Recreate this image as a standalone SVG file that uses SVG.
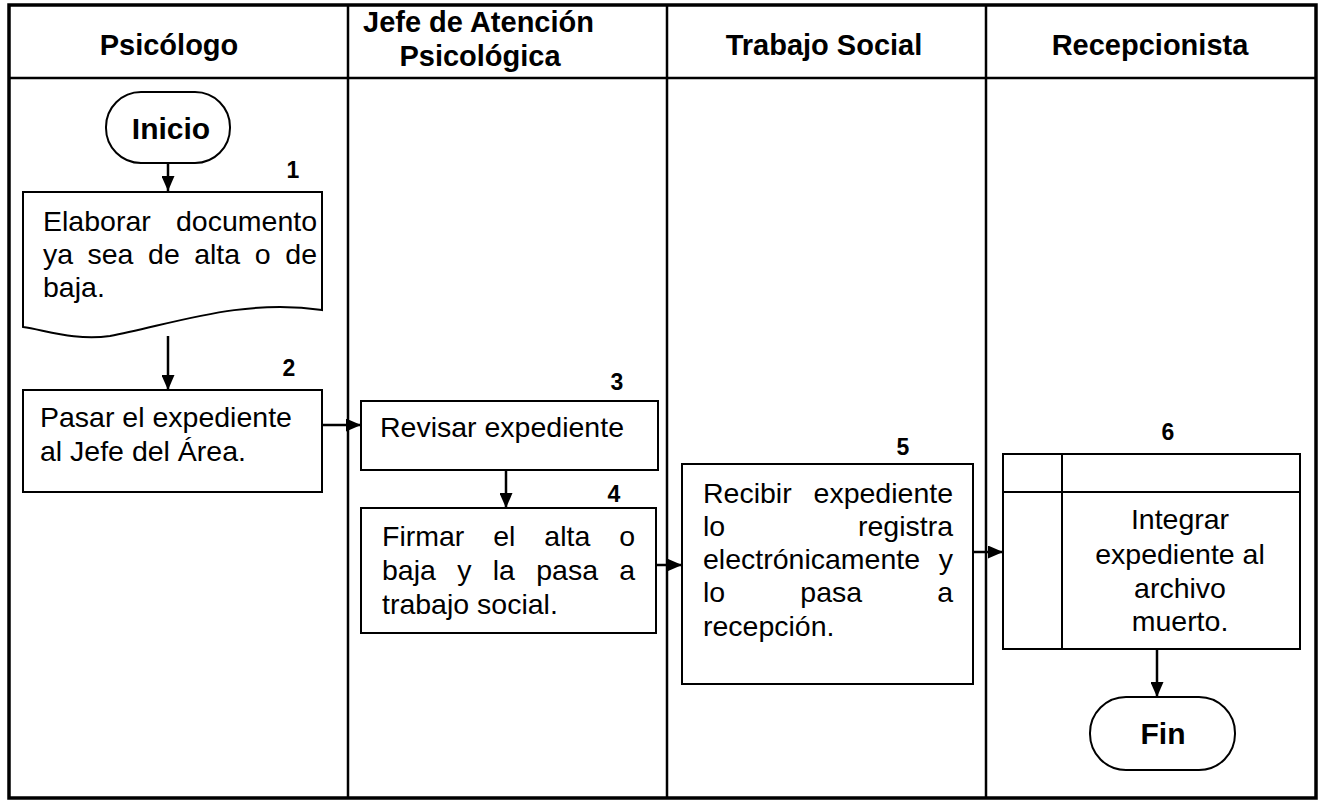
<svg xmlns="http://www.w3.org/2000/svg" width="1322" height="802" viewBox="0 0 1322 802">
<defs>
<style>
.frame{fill:none;stroke:#000;stroke-width:3.5}
.lane{fill:none;stroke:#000;stroke-width:2.5}
.box{fill:#fff;stroke:#000;stroke-width:2}
.hd{font-family:"Liberation Sans",Arial,sans-serif;font-weight:bold;font-size:29px;fill:#000}
.tb{font-family:"Liberation Sans",Arial,sans-serif;font-size:28.5px;fill:#000}
.num{font-family:"Liberation Sans",Arial,sans-serif;font-weight:bold;font-size:23px;fill:#000;text-anchor:middle}
.term{font-family:"Liberation Sans",Arial,sans-serif;font-weight:bold;font-size:30px;fill:#000;text-anchor:middle}
.con{fill:none;stroke:#000;stroke-width:2.5}
</style>
<marker id="ah" viewBox="0 0 15 13" refX="15" refY="6.5" markerWidth="15" markerHeight="13" markerUnits="userSpaceOnUse" orient="auto">
<path d="M0,0 L15,6.5 L0,13 Z" fill="#000"/>
</marker>
</defs>
<rect x="0" y="0" width="1322" height="802" fill="#fff"/>
<g id="lanes">
<rect class="frame" x="9" y="5" width="1307" height="793"/>
<line class="lane" x1="9" y1="78" x2="1316" y2="78"/>
<line class="lane" x1="348" y1="5" x2="348" y2="798"/>
<line class="lane" x1="667" y1="5" x2="667" y2="798"/>
<line class="lane" x1="986" y1="5" x2="986" y2="798"/>
<text class="hd" x="169" y="55" text-anchor="middle">Psicólogo</text>
<text class="hd" x="363" y="32">Jefe de Atención</text>
<text class="hd" x="480" y="66" text-anchor="middle">Psicológica</text>
<text class="hd" x="824" y="55" text-anchor="middle">Trabajo Social</text>
<text class="hd" x="1150" y="55" text-anchor="middle">Recepcionista</text>
</g>
<g id="connectors">
<line class="con" x1="168" y1="163" x2="168" y2="191" marker-end="url(#ah)"/>
<line class="con" x1="168" y1="336" x2="168" y2="390" marker-end="url(#ah)"/>
<line class="con" x1="322" y1="425" x2="361" y2="425" marker-end="url(#ah)"/>
<line class="con" x1="506" y1="470" x2="506" y2="508" marker-end="url(#ah)"/>
<line class="con" x1="656" y1="565" x2="682" y2="565" marker-end="url(#ah)"/>
<line class="con" x1="971" y1="552" x2="1003" y2="552" marker-end="url(#ah)"/>
<line class="con" x1="1157" y1="649" x2="1157" y2="697" marker-end="url(#ah)"/>
</g>
<g id="inicio">
<rect class="box" x="106" y="92" width="124" height="71" rx="35" ry="35"/>
<text class="term" x="171" y="139">Inicio</text>
</g>
<g id="n1">
<text class="num" x="293" y="178">1</text>
<path class="box" d="M23,192 H322 V310 C240,298 170,325 110,336 C75,341 45,330 23,327 Z"/>
<text class="tb" y="231"><tspan x="43">Elaborar</tspan><tspan x="317" text-anchor="end">documento</tspan></text>
<text class="tb" y="264"><tspan x="43">ya</tspan><tspan x="87.5">sea</tspan><tspan x="148.1">de</tspan><tspan x="194.2">alta</tspan><tspan x="254.8">o</tspan><tspan x="317" text-anchor="end">de</tspan></text>
<text class="tb" x="43" y="297">baja.</text>
</g>
<g id="n2">
<text class="num" x="289" y="376">2</text>
<rect class="box" x="23" y="390" width="299" height="102"/>
<text class="tb" x="40" y="427">Pasar el expediente</text>
<text class="tb" x="40" y="461">al Jefe del Área.</text>
</g>
<g id="n3">
<text class="num" x="617" y="390">3</text>
<rect class="box" x="361" y="401" width="297" height="69"/>
<text class="tb" x="380" y="437">Revisar expediente</text>
</g>
<g id="n4">
<text class="num" x="614" y="502">4</text>
<rect class="box" x="361" y="508" width="295" height="125"/>
<text class="tb" y="546"><tspan x="382">Firmar</tspan><tspan x="493.2">el</tspan><tspan x="544.3">alta</tspan><tspan x="635" text-anchor="end">o</tspan></text>
<text class="tb" y="580"><tspan x="382">baja</tspan><tspan x="457.2">y</tspan><tspan x="492.7">la</tspan><tspan x="536.2">pasa</tspan><tspan x="635" text-anchor="end">a</tspan></text>
<text class="tb" x="382" y="614">trabajo social.</text>
</g>
<g id="n5">
<text class="num" x="903" y="455">5</text>
<rect class="box" x="682" y="464" width="291" height="220"/>
<text class="tb" y="503"><tspan x="703">Recibir</tspan><tspan x="953" text-anchor="end">expediente</tspan></text>
<text class="tb" y="536"><tspan x="703">lo</tspan><tspan x="953" text-anchor="end">registra</tspan></text>
<text class="tb" y="569"><tspan x="703">electrónicamente</tspan><tspan x="953" text-anchor="end">y</tspan></text>
<text class="tb" y="602"><tspan x="703">lo</tspan><tspan x="800.3">pasa</tspan><tspan x="953" text-anchor="end">a</tspan></text>
<text class="tb" x="703" y="636">recepción.</text>
</g>
<g id="n6">
<text class="num" x="1168" y="440">6</text>
<rect class="box" x="1003" y="454" width="297" height="195"/>
<line class="box" x1="1003" y1="492" x2="1300" y2="492"/>
<line class="box" x1="1062" y1="454" x2="1062" y2="649"/>
<text class="tb" x="1180" y="529" text-anchor="middle">Integrar</text>
<text class="tb" x="1180" y="564" text-anchor="middle">expediente al</text>
<text class="tb" x="1180" y="598" text-anchor="middle">archivo</text>
<text class="tb" x="1180" y="631" text-anchor="middle">muerto.</text>
</g>
<g id="fin">
<rect class="box" x="1090" y="697" width="145" height="73" rx="36" ry="36"/>
<text class="term" x="1163" y="744">Fin</text>
</g>
</svg>
